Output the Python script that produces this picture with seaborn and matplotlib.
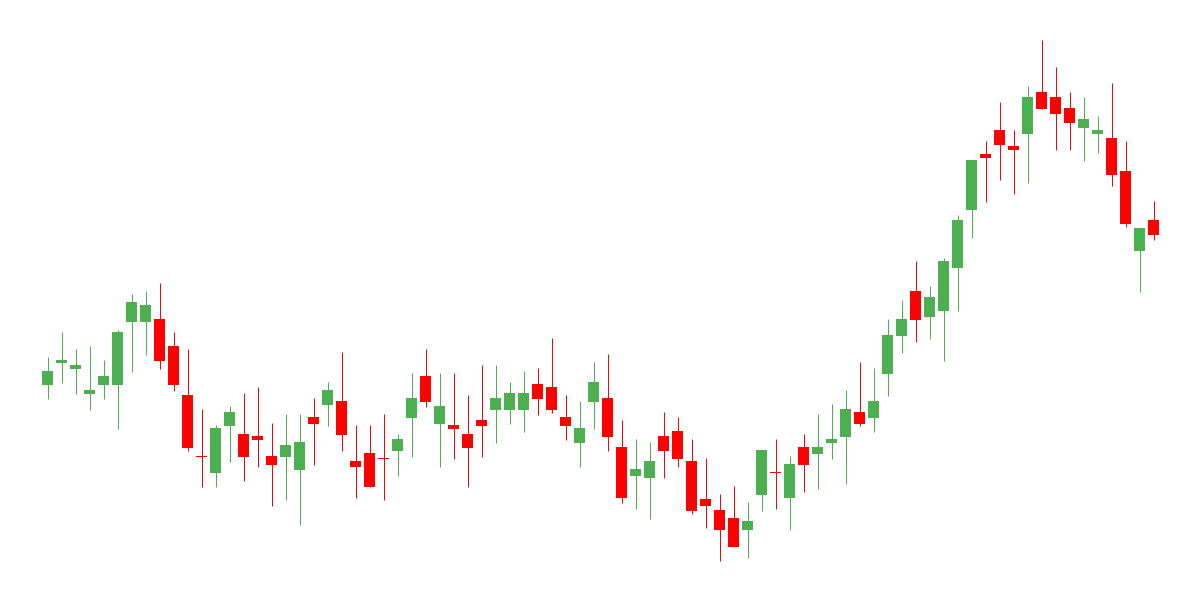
import numpy as np
import pandas as pd
import matplotlib
matplotlib.use("Agg")
import matplotlib.pyplot as plt
import seaborn as sns

# OHLC values, one entry per session (80 sessions)
opens = [215, 237, 231, 206, 215, 215, 278, 278, 281, 254,
         205, 144, 127, 174, 166, 164, 144, 143, 130, 183,
         195, 199, 139, 147, 142, 149, 182, 224, 176, 175,
         166, 180, 190, 190, 190, 216, 213, 183, 157, 198,
         202, 153, 124, 122, 164, 169, 139, 101, 90, 82,
         70, 105, 128, 102, 153, 146, 157, 163, 188, 182,
         226, 264, 309, 283, 289, 332, 390, 446, 470, 454,
         466, 508, 503, 492, 472, 466, 462, 429, 349, 380]
highs = [243, 268, 251, 254, 240, 270, 306, 309, 317, 268,
         251, 191, 175, 194, 207, 213, 177, 186, 186, 202,
         218, 248, 175, 175, 186, 166, 227, 251, 227, 227,
         205, 235, 235, 218, 229, 232, 262, 205, 199, 238,
         246, 180, 161, 158, 188, 183, 161, 142, 106, 114,
         98, 150, 161, 144, 166, 186, 196, 210, 238, 232,
         281, 300, 339, 314, 342, 385, 440, 459, 498, 470,
         514, 560, 533, 508, 503, 484, 517, 459, 372, 399]
lows = [201, 217, 206, 190, 201, 171, 228, 245, 231, 209,
        149, 113, 113, 138, 119, 133, 94, 100, 75, 135,
        174, 149, 102, 113, 100, 124, 143, 193, 133, 141,
        113, 143, 157, 176, 168, 185, 187, 160, 133, 171,
        149, 97, 91, 81, 122, 133, 86, 72, 39, 53,
        42, 89, 91, 70, 108, 111, 141, 116, 174, 168,
        204, 247, 258, 261, 239, 289, 362, 398, 420, 406,
        417, 491, 450, 450, 439, 447, 414, 373, 308, 360]
closes = [229, 240, 235, 210, 224, 268, 298, 295, 239, 215,
          152, 143, 172, 188, 143, 160, 135, 155, 158, 176,
          210, 165, 133, 113, 141, 161, 202, 198, 194, 171,
          152, 174, 202, 207, 207, 201, 190, 174, 172, 218,
          163, 102, 131, 139, 149, 141, 89, 94, 70, 53,
          79, 150, 127, 136, 135, 153, 161, 191, 176, 199,
          265, 281, 280, 303, 339, 380, 440, 442, 455, 450,
          503, 491, 486, 477, 481, 470, 425, 376, 372, 365]

df = pd.DataFrame({"open": opens, "high": highs, "low": lows, "close": closes})
df["idx"] = np.arange(len(df))
df["up"] = df["close"] >= df["open"]

sns.set_theme(style="white")
UP = "#4CAF50"
DOWN = "#FF0000"

fig = plt.figure(figsize=(12, 6), dpi=100)
ax = fig.add_axes([0, 0, 1, 1])

colors = np.where(df["up"], UP, DOWN)

# wicks
ax.vlines(df["idx"], df["low"], df["high"], colors=colors, linewidth=0.72,
          zorder=1)

# bodies
body_bottom = np.minimum(df["open"], df["close"])
body_height = np.maximum(np.abs(df["close"] - df["open"]), 1)
ax.bar(df["idx"], body_height, bottom=body_bottom, width=11 / 14,
       color=colors, linewidth=0, zorder=2)

ax.set_xlim(-47.5 / 14, (1200 - 47.5) / 14)
ax.set_ylim(0, 600)
ax.axis("off")
sns.despine(ax=ax, left=True, bottom=True)

fig.savefig("out.png", dpi=100, facecolor="white")
